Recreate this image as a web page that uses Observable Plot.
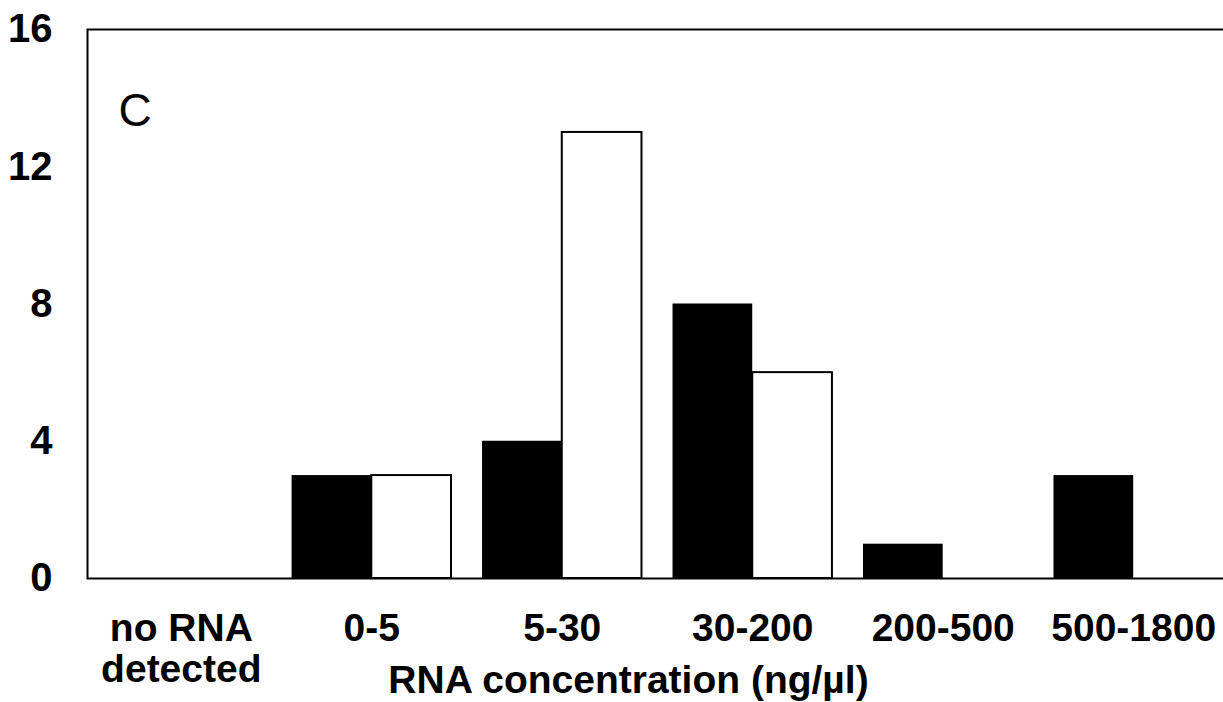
<!DOCTYPE html>
<html>
<head>
<meta charset="utf-8">
<script src="https://cdn.jsdelivr.net/npm/d3@7"></script>
<script src="https://cdn.jsdelivr.net/npm/@observablehq/plot@0.6"></script>
<style>
  html, body { margin: 0; padding: 0; background: #fff; overflow: hidden; }
  #chart svg { display: block; overflow: hidden; }
</style>
</head>
<body>
<div id="chart"></div>
<script>
// RNA concentration bins (ng/µl)
const categories = ["no RNA\ndetected", "0-5", "5-30", "30-200", "200-500", "500-1800"];
// Sample counts per bin: filled (black) and open (white) series
const filledCounts = [0, 3, 4, 8, 1, 3];
const openCounts = [0, 3, 13, 6, 0, 0];
const yTicks = [0, 4, 8, 12, 16];
const panelLetter = "C";
const xTitle = "RNA concentration (ng/µl)";

const rows = categories.map((c, i) => ({bin: c, filled: filledCounts[i], open: openCounts[i]}));

const W = 1223, H = 702;
const mL = 87, mT = 29, mB = 124, mR = -4;
const xRange = [mL, W - mR];
const padIn = 0.163, padOut = 0.074;
const bw = d3.scaleBand().domain(categories).range(xRange)
  .paddingInner(padIn).paddingOuter(padOut).bandwidth();

const font = "'Liberation Sans', Arial, Helvetica, sans-serif";

const chart = Plot.plot({
  width: W,
  height: H,
  marginLeft: mL,
  marginTop: mT,
  marginBottom: mB,
  marginRight: mR,
  style: {fontFamily: font, background: "#fff", color: "#000"},
  x: {
    type: "band",
    domain: categories,
    range: xRange,
    paddingInner: padIn,
    paddingOuter: padOut,
    round: false,
    label: null
  },
  y: {domain: [0, 16], ticks: yTicks, label: null},
  marks: [
    Plot.axisY({ticks: yTicks, tickSize: 0, tickPadding: 35, fontSize: 40, fontWeight: "bold", fontFamily: font, label: null}),
    Plot.axisX({tickSize: 0, tickPadding: 33, fontSize: 39, fontWeight: "bold", fontFamily: font, lineHeight: 1.06, label: null}),
    Plot.barY(rows, {x: "bin", y: "filled", fill: "#000", insetRight: bw / 2}),
    Plot.barY(rows, {x: "bin", y: "open", fill: "#fff", stroke: "#000", strokeWidth: 2, insetLeft: bw / 2}),
    Plot.frame({stroke: "#000", strokeWidth: 2}),
    Plot.text([panelLetter], {
      text: d => d, frameAnchor: "top-left", textAnchor: "start", lineAnchor: "top",
      dx: 31, dy: 64, fontSize: 46, fontFamily: font, fill: "#000"
    }),
    Plot.text([xTitle], {
      text: d => d, frameAnchor: "bottom", textAnchor: "middle", lineAnchor: "bottom",
      dx: -29, dy: 114, fontSize: 39, fontWeight: "bold", fontFamily: font, fill: "#000"
    })
  ]
});

document.getElementById("chart").appendChild(chart);
</script>
</body>
</html>
